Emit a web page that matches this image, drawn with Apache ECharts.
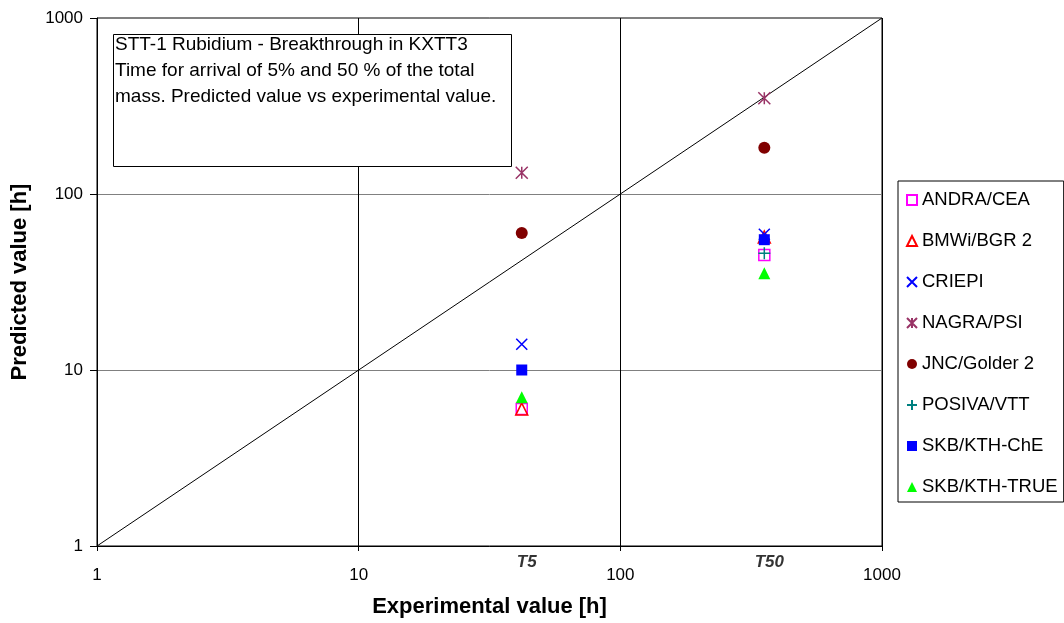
<!DOCTYPE html>
<html>
<head>
<meta charset="utf-8">
<script src="https://cdn.jsdelivr.net/npm/echarts@6/dist/echarts.min.js"></script>
<style>html,body{margin:0;padding:0;background:#fff;}#c{width:1064px;height:623px;}</style>
</head>
<body>
<div id="c"></div>
<script>
// Experimental values (x) for the two breakthrough times
const timeLabels = ['T5', 'T50'];
const experimental = [42, 355];
// Predicted values [T5, T50] per team
const seriesNames = ['ANDRA/CEA', 'BMWi/BGR 2', 'CRIEPI', 'NAGRA/PSI', 'JNC/Golder 2', 'POSIVA/VTT', 'SKB/KTH-ChE', 'SKB/KTH-TRUE'];
const andraCea = [6, 45];
const bmwiBgr2 = [6, 57];
const criepi = [14, 59];
const nagraPsi = [132, 350];
const jncGolder2 = [60, 183];
const posivaVtt = [null, 46];
const skbKthChe = [10, 55];
const skbKthTrue = [7, 35.5];
const axisTicks = [1, 10, 100, 1000];
const noteText = 'STT-1 Rubidium - Breakthrough in KXTT3\nTime for arrival of 5% and 50 % of the total\nmass. Predicted value vs experimental value.';

const values = [andraCea, bmwiBgr2, criepi, nagraPsi, jncGolder2, posivaVtt, skbKthChe, skbKthTrue];
const styles = [
  {symbol: 'rect', size: 11, color: 'rgba(0,0,0,0)', border: '#FF00FF', bw: 1.5},
  {symbol: 'triangle', size: 12, color: 'rgba(0,0,0,0)', border: '#FF0000', bw: 1.5},
  {symbol: 'path://M0,0L10,10M10,0L0,10', size: 11, color: 'rgba(0,0,0,0)', border: '#0000FF', bw: 1.5},
  {symbol: 'path://M0,0L10,10M10,0L0,10M5,0L5,10', size: 12, color: 'rgba(0,0,0,0)', border: '#993366', bw: 1.5},
  {symbol: 'circle', size: 12, color: '#800000', border: '#800000', bw: 0},
  {symbol: 'path://M5,0L5,10M0,5L10,5', size: 12, color: 'rgba(0,0,0,0)', border: '#008080', bw: 1.5},
  {symbol: 'rect', size: 11, color: '#0000FF', border: '#0000FF', bw: 0},
  {symbol: 'triangle', size: 12, color: '#00FF00', border: '#00FF00', bw: 0}
];

const font = 'Liberation Sans, Arial, sans-serif';
const scatter = seriesNames.map((name, i) => ({
  name: name,
  type: 'scatter',
  symbol: styles[i].symbol,
  symbolSize: styles[i].size,
  itemStyle: {color: styles[i].color, borderColor: styles[i].border, borderWidth: styles[i].bw, opacity: 1},
  data: experimental.map((x, j) => values[i][j] == null ? null : [x, values[i][j]]).filter(d => d),
  z: 5 + i
}));

const chart = echarts.init(document.getElementById('c'), null, {renderer: 'canvas'});
chart.setOption({
  animation: false,
  backgroundColor: '#fff',
  textStyle: {fontFamily: font},
  grid: {left: 97, top: 18, right: 182, bottom: 77, outerBoundsMode: 'none', containLabel: false, show: true, borderColor: '#000', borderWidth: 1, backgroundColor: '#fff'},
  xAxis: {
    type: 'log', logBase: 10, min: axisTicks[0], max: axisTicks[axisTicks.length - 1],
    name: 'Experimental value [h]', nameLocation: 'middle', nameGap: 50,
    nameTextStyle: {fontFamily: font, fontWeight: 'bold', fontSize: 22, color: '#000'},
    axisLine: {lineStyle: {color: '#000', width: 1}},
    axisTick: {show: true, inside: false, length: 5, lineStyle: {color: '#000'}},
    minorTick: {show: false},
    axisLabel: {fontFamily: font, fontSize: 17, color: '#000', margin: 21, formatter: v => String(v)},
    splitLine: {show: true, lineStyle: {color: '#000', width: 1}}
  },
  yAxis: {
    type: 'log', logBase: 10, min: axisTicks[0], max: axisTicks[axisTicks.length - 1],
    name: 'Predicted value [h]', nameLocation: 'middle', nameGap: 66, nameRotate: 90,
    nameTextStyle: {fontFamily: font, fontWeight: 'bold', fontSize: 22, color: '#000'},
    axisLine: {lineStyle: {color: '#000', width: 1}},
    axisTick: {show: true, inside: false, length: 7, lineStyle: {color: '#000'}},
    minorTick: {show: false},
    axisLabel: {fontFamily: font, fontSize: 17, color: '#000', margin: 14, formatter: v => String(v)},
    splitLine: {show: true, lineStyle: {color: '#808080', width: 1}}
  },
  legend: {
    data: seriesNames,
    orient: 'vertical',
    left: 898, top: 181,
    padding: [9, 6, 5, 8],
    itemWidth: 10, itemHeight: 10, itemGap: 21,
    backgroundColor: '#fff',
    borderColor: '#000', borderWidth: 1, borderRadius: 0,
    textStyle: {fontFamily: font, fontSize: 18.5, color: '#000', lineHeight: 20},
    selectedMode: false
  },
  graphic: [
    {type: 'rect', left: 113, top: 34, z: 100, shape: {width: 398, height: 132}, style: {fill: '#fff', stroke: '#000', lineWidth: 1}},
    {type: 'text', left: 115, top: 32, z: 101, style: {text: noteText, font: '19px ' + font, fill: '#000', lineHeight: 26}}
  ],
  series: [
    {
      name: 'identity', type: 'line', data: [[axisTicks[0], axisTicks[0]], [axisTicks[3], axisTicks[3]]],
      symbol: 'none', lineStyle: {color: '#000', width: 1}, silent: true, z: 3
    },
    {
      name: 'timeLabels', type: 'scatter', symbolSize: 0, silent: true, z: 4,
      data: experimental.map((x, j) => ({value: [x, axisTicks[0]], label: {formatter: timeLabels[j]}})),
      label: {show: true, position: 'bottom', distance: 8, offset: [5, 0], fontFamily: font, fontSize: 17, fontWeight: 'bold', fontStyle: 'italic', color: '#000'}
    },
    ...scatter
  ]
});
</script>
</body>
</html>
